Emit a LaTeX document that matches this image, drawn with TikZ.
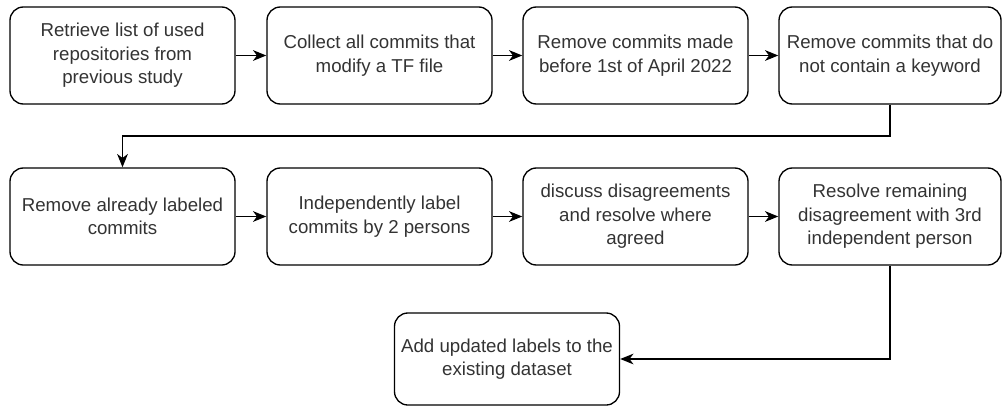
\documentclass[tikz,border=0pt]{standalone}
\usepackage{fontspec}
\setmainfont{Liberation Sans}
\usetikzlibrary{arrows.meta}
\begin{document}
\begin{tikzpicture}[x=0.75pt,y=-0.75pt,
  stepbox/.style={draw=black, line width=1pt, rounded corners=10pt,
    minimum width=168.75pt, minimum height=72.75pt, inner sep=1pt,
    align=center, text=black!80,
    font=\fontsize{14}{17.6}\selectfont},
  arr/.style={draw=black, line width=1pt, -{Stealth[length=10pt,width=8pt,inset=3pt]}}]
\useasboundingbox (0,0) rectangle (1002,407);
\node[stepbox] (b1) at (122.5,55.5) {Retrieve list of used\\repositories from\\previous study};
\node[stepbox] (b2) at (379.5,55.5) {Collect all commits that\\modify a TF file};
\node[stepbox] (b3) at (635.5,55.5) {Remove commits made\\before 1st of April 2022};
\node[stepbox, minimum width=166.5pt] (b4) at (890,55.5) {Remove commits that do\\not contain a keyword};
\node[stepbox] (b5) at (122.5,216.5) {Remove already labeled\\commits};
\node[stepbox] (b6) at (379.5,216.5) {Independently label\\commits by 2 persons};
\node[stepbox] (b7) at (635.5,216.5) {discuss disagreements\\and resolve where\\agreed};
\node[stepbox, minimum width=166.5pt] (b8) at (890,216.5) {Resolve remaining\\disagreement with 3rd\\independent person};
\node[stepbox, minimum height=69pt] (b9) at (507,359) {Add updated labels to the\\existing dataset};
\coordinate (m1) at (500,136);
\draw[arr] (b1) -- (b2);
\draw[arr] (b2) -- (b3);
\draw[arr] (b3) -- (b4);
\draw[arr] (b4.south) |- (m1) -| (b5.north);
\draw[arr] (b5) -- (b6);
\draw[arr] (b6) -- (b7);
\draw[arr] (b7) -- (b8);
\draw[arr] (b8.south) |- (b9.east);
\end{tikzpicture}
\end{document}
